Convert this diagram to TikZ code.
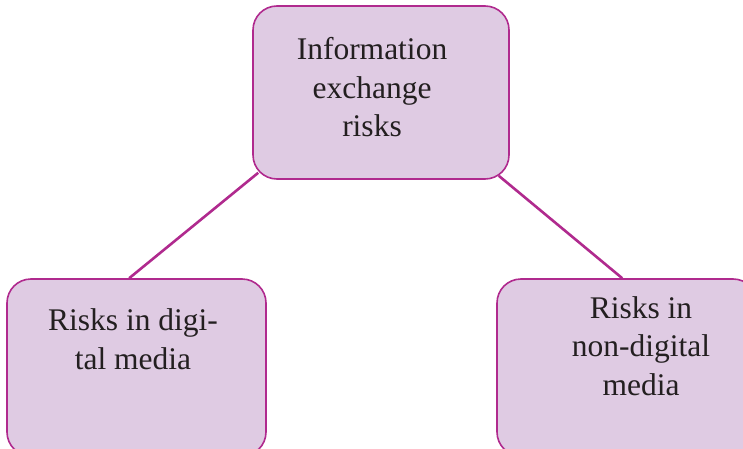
\documentclass[tikz,border=0pt]{standalone}
\usepackage{fontspec}
\setmainfont{Liberation Serif}
\usetikzlibrary{calc}
\definecolor{boxfill}{HTML}{DFCBE3}
\definecolor{boxline}{HTML}{B02A8E}
\definecolor{txt}{HTML}{231F20}
\begin{document}
\begin{tikzpicture}[x=1pt,y=-1pt,
  infobox/.style={draw=boxline, fill=boxfill, line width=1.6pt, rounded corners=24pt, inner sep=0pt},
  label/.style={text=txt, align=center, inner sep=0pt, anchor=base,
    font=\fontsize{31.5}{38.5}\selectfont},
  link/.style={draw=boxline, line width=2.6pt}]
\useasboundingbox (0,0) rectangle (743,449);
\clip (0,0) rectangle (743,449);
% boxes
\node[infobox, minimum width=256pt, minimum height=173pt] (top) at (381,92.5) {};
\node[infobox, minimum width=259pt, minimum height=177pt] (bl) at (136.5,367.5) {};
\node[infobox, minimum width=260pt, minimum height=177pt] (br) at (627,367.5) {};
% texts (base anchor = baseline of the last line)
\node[label] (ttop) at (372,137) {Information\\exchange\\risks};
\node[label] (tbl) at (133,369) {Risks in digi-\\tal media};
\node[label] (tbr) at (641,395) {Risks in\\non-digital\\media};
% connector ends
\coordinate (a1) at ($(top.south west)+(6,-7)$);
\coordinate (b1) at ($(bl.north west)+(123,0)$);
\coordinate (a2) at ($(top.south east)+(-11,-4)$);
\coordinate (b2) at ($(br.north west)+(126,0)$);
\draw[link] (a1) -- (b1);
\draw[link] (a2) -- (b2);
\end{tikzpicture}
\end{document}
